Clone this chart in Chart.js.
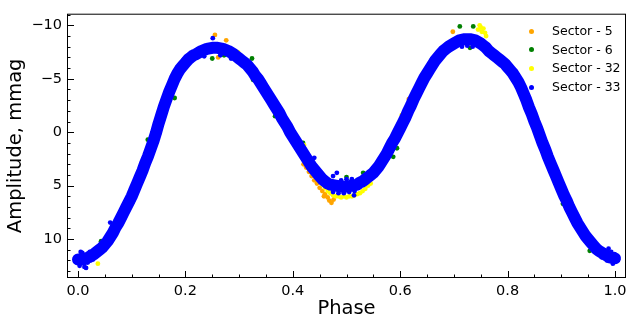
<!DOCTYPE html>
<html>
<head>
<meta charset="utf-8">
<script src="https://cdn.jsdelivr.net/npm/chart.js@4.4.0/dist/chart.umd.min.js"></script>
<style>
  body { margin: 0; background: #fff; }
  #wrap { position: relative; width: 634px; height: 327px; }
  #legend { position: absolute; left: 0; top: 0; font-family: "DejaVu Sans", sans-serif; font-size: 12.5px; color: #000; }
  .row { position: absolute; left: 526px; height: 18px; line-height: 18px; white-space: nowrap; }
  .dot { position: absolute; left: 2.5px; top: 6.5px; width: 5px; height: 5px; border-radius: 50%; }
  .lbl { position: absolute; left: 26px; top: 0; }
</style>
</head>
<body>
<div id="wrap">
  <canvas id="lcChart" width="634" height="327"></canvas>
  <div id="legend"></div>
</div>
<script>
// 凡例
const sectorLabels = ['Sector - 5', 'Sector - 6', 'Sector - 32', 'Sector - 33'];
const sectorColors = ['orange', 'green', 'yellow', 'blue'];

// 軸の目盛り
const xTicks = [0.0, 0.2, 0.4, 0.6, 0.8, 1.0];
const xMinorTicks = [0, 0.05, 0.1, 0.15, 0.2, 0.25, 0.3, 0.35, 0.4, 0.45, 0.5, 0.55, 0.6, 0.65, 0.7, 0.75, 0.8, 0.85, 0.9, 0.95, 1.0];
const yTicks = [-10, -5, 0, 5, 10];
const yMinorTicks = [-11, -10, -9, -8, -7, -6, -5, -4, -3, -2, -1, 0, 1, 2, 3, 4, 5, 6, 7, 8, 9, 10, 11, 12, 13];

// Sector 33 (主な帯)
const s33Phase = [0.000, 0.010, 0.020, 0.030, 0.040, 0.045, 0.050, 0.055, 0.060, 0.065, 0.070, 0.075, 0.080, 0.085, 0.090, 0.095,
  0.100, 0.105, 0.110, 0.115, 0.120, 0.125, 0.130, 0.135, 0.140, 0.145, 0.150, 0.155, 0.160, 0.165, 0.170, 0.175, 0.180, 0.185,
  0.190, 0.195, 0.200, 0.205, 0.210, 0.215, 0.220, 0.230, 0.240, 0.250, 0.260, 0.270, 0.280, 0.290, 0.295, 0.300, 0.305, 0.310,
  0.315, 0.320, 0.325, 0.330, 0.335, 0.340, 0.345, 0.350, 0.355, 0.360, 0.365, 0.370, 0.375, 0.380, 0.385, 0.390, 0.395, 0.400,
  0.405, 0.410, 0.415, 0.420, 0.425, 0.430, 0.435, 0.440, 0.445, 0.450, 0.455, 0.460, 0.465, 0.470, 0.480, 0.490, 0.500, 0.510,
  0.520, 0.525, 0.530, 0.535, 0.540, 0.545, 0.550, 0.555, 0.560, 0.565, 0.570, 0.575, 0.580, 0.585, 0.590, 0.595, 0.600, 0.605,
  0.610, 0.615, 0.620, 0.625, 0.630, 0.635, 0.640, 0.645, 0.650, 0.655, 0.660, 0.665, 0.670, 0.675, 0.680, 0.685, 0.690, 0.700,
  0.710, 0.720, 0.730, 0.740, 0.750, 0.755, 0.760, 0.765, 0.770, 0.775, 0.780, 0.785, 0.790, 0.795, 0.800, 0.805, 0.810, 0.815,
  0.820, 0.825, 0.830, 0.835, 0.840, 0.845, 0.850, 0.855, 0.860, 0.865, 0.870, 0.875, 0.880, 0.885, 0.890, 0.895, 0.900, 0.905,
  0.910, 0.915, 0.920, 0.925, 0.930, 0.935, 0.940, 0.945, 0.950, 0.955, 0.960, 0.965, 0.970, 0.980, 0.990, 1.000];
const s33Amp = [11.9, 11.9, 11.7, 11.4, 11.0, 10.8, 10.5, 10.2, 9.8, 9.4, 8.9, 8.5, 8.0, 7.5, 7.0, 6.5,
  6.0, 5.4, 4.8, 4.2, 3.6, 2.9, 2.3, 1.6, 0.9, 0.1, -0.8, -1.6, -2.4, -3.1, -3.8, -4.4, -5.0, -5.5,
  -5.9, -6.2, -6.5, -6.8, -7.0, -7.2, -7.3, -7.6, -7.8, -7.9, -7.9, -7.8, -7.6, -7.3, -7.1, -6.9, -6.7, -6.5,
  -6.3, -6.0, -5.7, -5.3, -5.0, -4.6, -4.2, -3.8, -3.4, -3.0, -2.6, -2.2, -1.8, -1.3, -0.9, -0.5, 0.0, 0.4,
  0.8, 1.2, 1.6, 2.0, 2.4, 2.8, 3.2, 3.5, 3.8, 4.1, 4.4, 4.6, 4.8, 4.9, 5.0, 5.1, 5.1, 5.0,
  4.9, 4.7, 4.6, 4.4, 4.2, 4.0, 3.8, 3.5, 3.2, 2.8, 2.4, 2.0, 1.5, 1.0, 0.6, 0.1, -0.4, -0.9,
  -1.4, -2.0, -2.5, -3.1, -3.6, -4.1, -4.6, -5.1, -5.5, -5.9, -6.3, -6.7, -7.0, -7.3, -7.6, -7.8, -8.0, -8.3,
  -8.6, -8.7, -8.7, -8.6, -8.3, -8.1, -7.9, -7.6, -7.4, -7.2, -7.0, -6.8, -6.6, -6.4, -6.1, -5.8, -5.5, -5.1,
  -4.7, -4.2, -3.6, -3.0, -2.3, -1.7, -1.0, -0.4, 0.3, 1.0, 1.6, 2.3, 2.9, 3.5, 4.1, 4.7, 5.3, 5.9,
  6.4, 7.0, 7.5, 8.0, 8.5, 8.9, 9.3, 9.7, 10.0, 10.3, 10.6, 10.9, 11.1, 11.4, 11.7, 11.8];

// Sector 33 (帯の縁と外れ値)
const s33ExtraPhase = [0.003, 0.008, 0.012, 0.018, 0.005, 0.022, 0.028, 0.015, 0.985, 0.993, 0.996, 0.999, 0.975, 0.988,
  0.060, 0.440, 0.475, 0.482, 0.514, 0.251, 0.475, 0.485, 0.495, 0.505, 0.515, 0.490, 0.500, 0.510,
  0.235, 0.265, 0.285, 0.715, 0.725, 0.735];
const s33ExtraAmp = [12.5, 11.3, 12.6, 12.2, 11.2, 11.2, 11.9, 12.7, 12.0, 11.2, 12.3, 11.4, 11.7, 10.9,
  8.45, 2.4, 4.1, 3.8, 5.9, -8.8, 5.6, 5.7, 5.7, 5.6, 5.5, 4.5, 4.4, 4.4,
  -7.1, -7.2, -6.9, -8.0, -8.1, -8.0];

// Sector 32
const s32Phase = [0.450, 0.455, 0.460, 0.465, 0.470, 0.475, 0.480, 0.485, 0.490, 0.495, 0.500, 0.505, 0.510, 0.515, 0.520,
  0.525, 0.530, 0.535, 0.540, 0.545, 0.421, 0.745, 0.748, 0.750, 0.752, 0.755, 0.758, 0.760, 0.603, 0.037, 0.298];
const s32Amp = [4.6, 4.9, 5.2, 5.5, 5.7, 5.9, 6.0, 6.0, 6.1, 6.0, 6.1, 6.0, 6.0, 5.9, 5.8,
  5.7, 5.5, 5.3, 5.0, 4.8, 1.2, -9.6, -10.0, -9.8, -9.4, -9.7, -9.3, -9.0, -1.6, 12.3, -7.5];

// Sector 6
const s6Phase = [0.197, 0.250, 0.272, 0.324, 0.326, 0.180, 0.367, 0.419, 0.500, 0.531, 0.130, 0.102, 0.043, 0.711, 0.736,
  0.730, 0.659, 0.587, 0.594, 0.953, 0.903];
const s6Amp = [-6.8, -6.9, -7.2, -6.9, -4.9, -3.2, -1.5, 1.0, 4.2, 3.8, 0.7, 6.5, 10.2, -9.9, -9.9,
  -7.9, -6.8, 2.3, 1.5, 11.1, 6.7];

// Sector 5
const s5Phase = [0.255, 0.276, 0.261, 0.175, 0.420, 0.425, 0.430, 0.435, 0.440, 0.445, 0.450, 0.455, 0.460, 0.465, 0.468,
  0.472, 0.476, 0.478, 0.458, 0.616, 0.698, 0.823];
const s5Amp = [-9.1, -8.6, -7.0, -3.3, 3.0, 3.3, 3.7, 4.1, 4.5, 4.8, 5.2, 5.5, 5.8, 6.1, 6.4,
  6.6, 6.3, 6.0, 6.0, -3.1, -9.4, -3.7];

const fontFamily = '"DejaVu Sans", sans-serif';

function toPoints(phases, amps) {
    return phases.map((p, i) => ({ x: p, y: amps[i] }));
}

// 枠線と内向きの目盛り
const frameTicks = {
    id: 'frameTicks',
    afterDraw(chart) {
        const { ctx, chartArea: a, scales: { x, y } } = chart;
        ctx.save();
        ctx.strokeStyle = '#000';
        ctx.lineWidth = 1;
        ctx.beginPath();
        xMinorTicks.forEach(v => {
            const px = Math.round(x.getPixelForValue(v)) + 0.5;
            const len = xTicks.some(t => Math.abs(t - v) < 1e-6) ? 7 : 3.5;
            ctx.moveTo(px, a.bottom);
            ctx.lineTo(px, a.bottom - len);
        });
        yMinorTicks.forEach(v => {
            const py = Math.round(y.getPixelForValue(v)) + 0.5;
            const len = yTicks.includes(v) ? 7 : 3.5;
            ctx.moveTo(a.left, py);
            ctx.lineTo(a.left + len, py);
        });
        ctx.stroke();
        ctx.strokeRect(a.left + 0.5, a.top + 0.5, a.right - a.left - 1, a.bottom - a.top - 1);
        ctx.restore();
    }
};

new Chart(document.getElementById('lcChart').getContext('2d'), {
    type: 'scatter',
    data: {
        datasets: [
            {
                label: 'Sector - 33',
                data: toPoints(s33Phase, s33Amp),
                showLine: true,
                borderColor: 'blue',
                borderWidth: 12,
                borderCapStyle: 'round',
                borderJoinStyle: 'round',
                backgroundColor: 'blue',
                pointRadius: 0
            },
            { label: 'Sector - 33 extra', data: toPoints(s33ExtraPhase, s33ExtraAmp), backgroundColor: 'blue', pointRadius: 2.4, pointBorderWidth: 0 },
            { label: 'Sector - 32', data: toPoints(s32Phase, s32Amp), backgroundColor: 'yellow', pointRadius: 2.4, pointBorderWidth: 0 },
            { label: 'Sector - 6', data: toPoints(s6Phase, s6Amp), backgroundColor: 'green', pointRadius: 2.4, pointBorderWidth: 0 },
            { label: 'Sector - 5', data: toPoints(s5Phase, s5Amp), backgroundColor: 'orange', pointRadius: 2.4, pointBorderWidth: 0 }
        ]
    },
    options: {
        responsive: false,
        animation: false,
        events: [],
        layout: { padding: { left: 0, right: 8, top: 6, bottom: 0 } },
        plugins: { legend: { display: false }, tooltip: { enabled: false } },
        scales: {
            x: {
                type: 'linear',
                min: -0.0205,
                max: 1.0205,
                afterBuildTicks: (scale) => { scale.ticks = xTicks.map(v => ({ value: v })); },
                afterFit: (scale) => { scale.height = 49; },
                grid: { display: false, drawTicks: false },
                border: { display: false },
                ticks: {
                    padding: 5,
                    color: '#000',
                    font: { family: fontFamily, size: 14.5 },
                    callback: (v) => Number(v).toFixed(1)
                },
                title: {
                    display: true,
                    text: 'Phase',
                    color: '#000',
                    font: { family: fontFamily, size: 19.5 },
                    padding: { top: 0, bottom: 6 }
                }
            },
            y: {
                type: 'linear',
                reverse: true,
                min: -11.09,
                max: 13.64,
                afterBuildTicks: (scale) => { scale.ticks = yTicks.map(v => ({ value: v })); },
                afterFit: (scale) => { scale.width = 67; },
                grid: { display: false, drawTicks: false },
                border: { display: false },
                ticks: {
                    padding: 5,
                    color: '#000',
                    font: { family: fontFamily, size: 14.5 },
                    callback: (v) => String(v).replace('-', '\u2212')
                },
                title: {
                    display: true,
                    text: 'Amplitude, mmag',
                    color: '#000',
                    font: { family: fontFamily, size: 19.5 },
                    padding: { top: 4, bottom: 0 }
                }
            }
        }
    },
    plugins: [frameTicks]
});

// 凡例（グラフ内右上）
const legend = document.getElementById('legend');
sectorLabels.forEach((label, i) => {
    const row = document.createElement('div');
    row.className = 'row';
    row.style.top = (22 + i * 18.7) + 'px';
    const dot = document.createElement('span');
    dot.className = 'dot';
    dot.style.background = sectorColors[i];
    const text = document.createElement('span');
    text.className = 'lbl';
    text.innerText = label;
    row.appendChild(dot);
    row.appendChild(text);
    legend.appendChild(row);
});
</script>
</body>
</html>
